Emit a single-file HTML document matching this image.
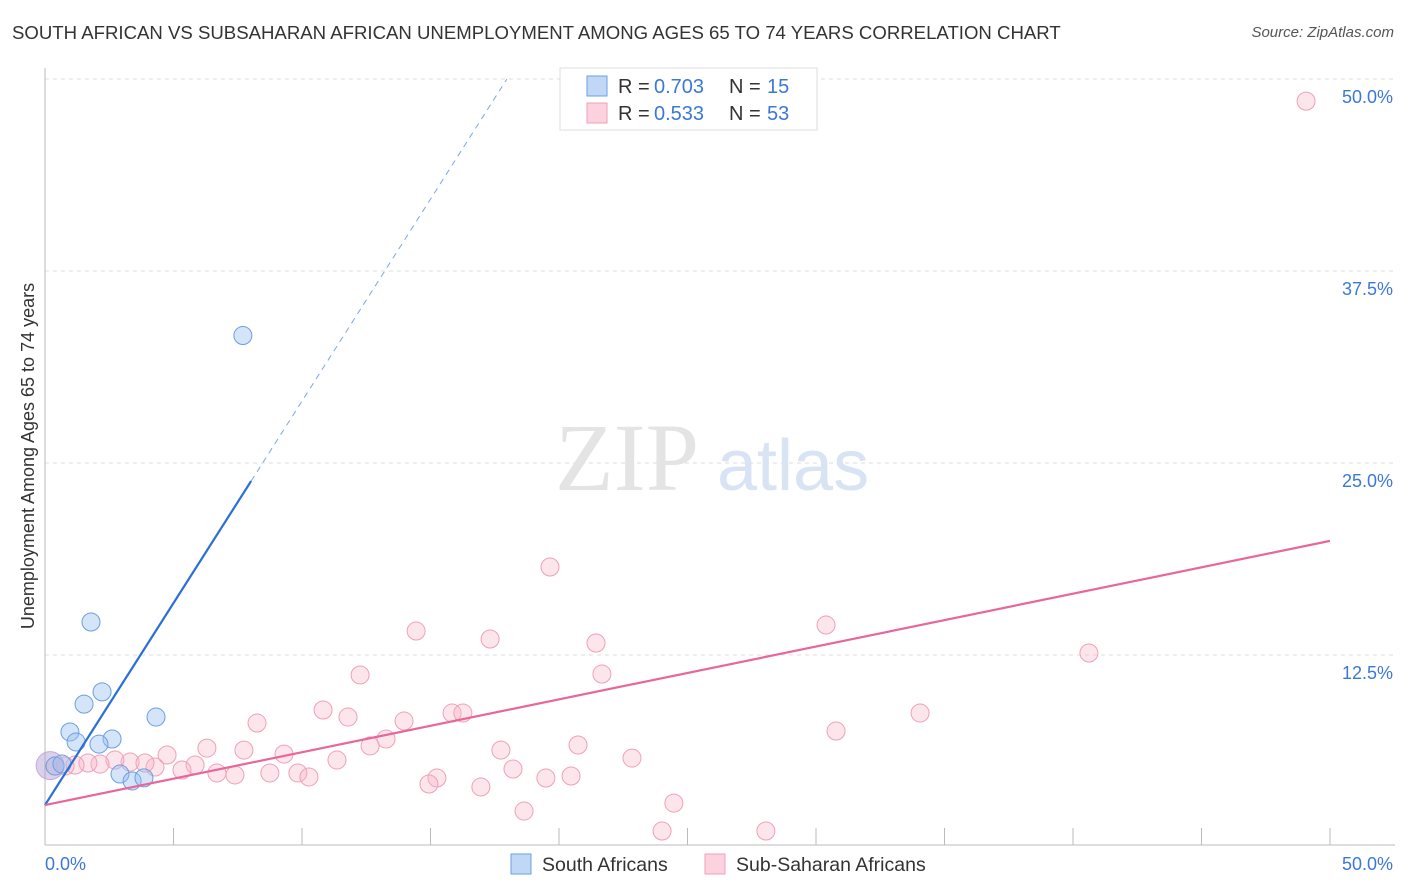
<!DOCTYPE html>
<html><head><meta charset="utf-8">
<style>
body{margin:0;background:#fff;font-family:"Liberation Sans",sans-serif;}
#wrap{position:relative;width:1406px;height:892px;overflow:hidden;}
.t{position:absolute;white-space:nowrap;}
</style></head>
<body>
<div id="wrap">
<div class="t" style="left:12px;top:22px;font-size:18.6px;color:#333;">SOUTH AFRICAN VS SUBSAHARAN AFRICAN UNEMPLOYMENT AMONG AGES 65 TO 74 YEARS CORRELATION CHART</div>
<div class="t" style="right:12px;top:24px;font-size:15px;color:#555;font-style:italic;">Source: ZipAtlas.com</div>
<svg id="svg" width="1406" height="892" style="position:absolute;left:0;top:0"></svg>
</div>
<script>
const xTickLabels=["0.0%","50.0%"];
const yTicks=[12.5,25,37.5,50];
const yTickLabels=["12.5%","25.0%","37.5%","50.0%"];
const blueX=[7.7,1.79,2.22,1.52,4.32,0.97,2.61,1.21,2.1,2.92,3.39,3.85,0.39,0.66];
const blueY=[33.3,14.65,10.1,9.3,8.46,7.49,7.03,6.84,6.7,4.75,4.3,4.5,5.27,5.4];
const pinkX=[49.07,19.65,14.44,17.32,21.44,30.39,40.62,12.26,21.67,10.82,11.79,15.84,16.26,13.97,8.25,34.05,30.78,13.27,12.65,6.30,7.74,20.74,17.74,9.30,4.75,11.36,22.84,5.84,4.28,3.31,3.89,2.72,2.14,1.67,1.17,0.78,0.39,5.33,6.69,7.39,8.75,9.84,10.27,15.25,14.94,18.21,19.49,20.47,16.96,24.47,18.64,24.01,28.05];
const pinkY=[48.56,18.23,14.06,13.54,13.28,14.45,12.63,11.2,11.26,8.92,8.46,8.72,8.72,8.2,8.07,8.72,7.55,7.03,6.58,6.44,6.31,6.64,6.31,6.05,5.99,5.66,5.79,5.34,5.21,5.53,5.47,5.66,5.40,5.47,5.34,5.27,5.27,5.01,4.82,4.69,4.82,4.82,4.56,4.49,4.10,5.08,4.49,4.62,3.91,2.86,2.34,1.04,1.04];
const blueFit=[2.73,2.63]; // intercept, slope
const pinkFit=[2.73,0.344];
const X0=45,X1=1330,Y0=847,Y1=79;
const sx=v=>X0+(v/50)*(X1-X0);
const sy=v=>Y0-(v/50)*(Y0-Y1);
const svg=document.getElementById('svg');
const NS='http://www.w3.org/2000/svg';
function mk(tag,attrs,parent){const e=document.createElementNS(NS,tag);for(const k in attrs)e.setAttribute(k,attrs[k]);(parent||svg).appendChild(e);return e;}
yTicks.forEach((t,i)=>{
 const g=mk('line',{x1:45,x2:1395,y1:sy(t),y2:sy(t),stroke:'#ddd','stroke-dasharray':'4,4'});
 
 
 const tx=mk('text',{x:1393,y:sy(t)+24,'text-anchor':'end','font-size':18,fill:'#3b78d8','font-family':'Liberation Sans, sans-serif'});
 tx.textContent=yTickLabels[i];
 
 
});
const ya=mk('line',{x1:45,x2:45,y1:68,y2:845,stroke:'#bbb'});


const xa=mk('line',{x1:45,x2:1395,y1:845,y2:845,stroke:'#bbb'});


for(let i=0;i<=10;i++){
 const tk=mk('line',{x1:sx(i*5),x2:sx(i*5),y1:828,y2:845,stroke:'#bbb'});
 
 
}
[[0,'start',45],[1,'end',1393]].forEach(([i,a,x])=>{
 const tx=mk('text',{x:x,y:870,'text-anchor':a,'font-size':18,fill:'#3b78d8','font-family':'Liberation Sans, sans-serif'});
 tx.textContent=xTickLabels[i];
 
 
});
const wm=mk('text',{x:555,y:490,'font-size':96,fill:'#e4e4e4','font-family':'Liberation Serif, serif'});wm.textContent='ZIP';


const wm2=mk('text',{x:717,y:490,'font-size':72,fill:'#d8e4f4','font-family':'Liberation Sans, sans-serif'});wm2.textContent='atlas';


function dots(xs,ys,fill,stroke,name){xs.forEach((x,i)=>{
 const c=mk('circle',{cx:sx(x),cy:sy(ys[i]),r:9,fill:fill,stroke:stroke,'stroke-width':1});
 
 
});}
const big=mk('circle',{cx:sx(0.2),cy:sy(5.3),r:14,fill:'rgba(170,150,210,0.45)',stroke:'#c9a9d9'});


dots(pinkX,pinkY,'rgba(248,180,200,0.35)','#eea0b8','sub-saharan-point');
dots(blueX,blueY,'rgba(150,190,240,0.4)','#6b9fe0','south-african-point');
const bEnd=8.02, bDash=(50-blueFit[0])/blueFit[1];
const bl=mk('line',{x1:sx(0),y1:sy(blueFit[0]),x2:sx(bEnd),y2:sy(blueFit[0]+blueFit[1]*bEnd),stroke:'#2a6fd6','stroke-width':2.2});


const bd=mk('line',{x1:sx(bEnd),y1:sy(blueFit[0]+blueFit[1]*bEnd),x2:sx(bDash),y2:sy(50),stroke:'#7aa6e6','stroke-width':1,'stroke-dasharray':'6,5'});


const pl=mk('line',{x1:sx(0),y1:sy(pinkFit[0]),x2:sx(50),y2:sy(pinkFit[0]+pinkFit[1]*50),stroke:'#e8679a','stroke-width':2.2});


const yt=mk('text',{transform:'translate(34,456) rotate(-90)','text-anchor':'middle','font-size':18,fill:'#333','font-family':'Liberation Sans, sans-serif'});
yt.textContent='Unemployment Among Ages 65 to 74 years';


const lg=mk('rect',{x:560,y:68,width:257,height:62,fill:'#fff',stroke:'#ddd'});


[[0,'rgba(150,190,240,0.6)','#6b9fe0','0.703','15',86],[1,'rgba(248,180,200,0.6)','#eea0b8','0.533','53',113]].forEach(([i,f,s,r,n,y])=>{
 const sw=mk('rect',{x:587,y:y-10,width:20,height:20,fill:f,stroke:s});
 
 
 const parts=[[618,'R =','#333'],[654,r,'#3b78d8'],[729,'N =','#333'],[767,n,'#3b78d8']];
 parts.forEach(([x,txt,col])=>{
  const t=mk('text',{x:x,y:y+7,'font-size':20,fill:col,'font-family':'Liberation Sans, sans-serif'});
  t.textContent=txt;
  
  
 });
});
[[511,'rgba(150,190,240,0.6)','#6b9fe0','South Africans','legend-south-africans'],[705,'rgba(248,180,200,0.6)','#eea0b8','Sub-Saharan Africans','legend-sub-saharan-africans']].forEach(([x,f,s,l,nm])=>{
 const sw=mk('rect',{x:x,y:854,width:20,height:20,fill:f,stroke:s});
 
 
 const t=mk('text',{x:x+31,y:871,'font-size':19.5,fill:'#333','font-family':'Liberation Sans, sans-serif'});
 t.textContent=l;
 
 
});
</script>
</body></html>
